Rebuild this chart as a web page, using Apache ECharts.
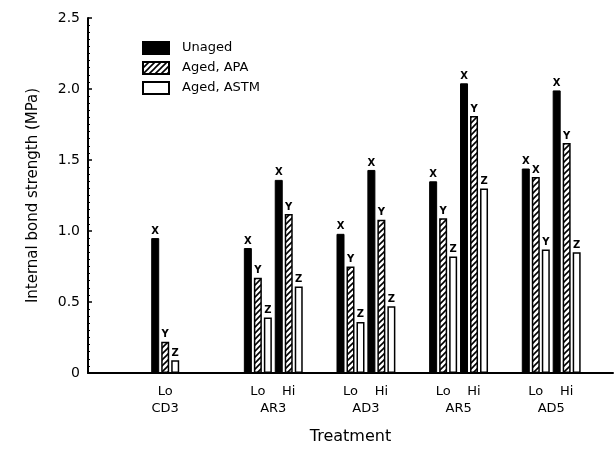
<!DOCTYPE html>
<html>
<head>
<meta charset="utf-8">
<script src="https://cdn.jsdelivr.net/npm/echarts@6/dist/echarts.min.js"></script>
<style>
  html, body { margin: 0; padding: 0; background: #fff; }
  #chart { width: 616px; height: 454px; }
</style>
</head>
<body>
<div id="chart"></div>
<script>
// slots along the x axis: Lo / Hi / gap per treatment
const slots = ['p0', 'p1', 'CD3 Lo', 'CD3 Hi', 'g1', 'AR3 Lo', 'AR3 Hi', 'g2', 'AD3 Lo', 'AD3 Hi', 'g3', 'AR5 Lo', 'AR5 Hi', 'g4', 'AD5 Lo', 'AD5 Hi', 'g5'];
const levelLabels = ['', '', 'Lo', '', '', 'Lo', 'Hi', '', 'Lo', 'Hi', '', 'Lo', 'Hi', '', 'Lo', 'Hi', ''];
// treatment names on a finer point axis (half slot steps)
const groupLabels = ['', '', '', '', '', 'CD3', '', '', '', '', '', '', 'AR3', '', '', '', '', '', 'AD3', '', '', '', '', '', 'AR5', '', '', '', '', '', 'AD5', '', '', '', ''];

const unaged = [null, null, 0.95, null, null, 0.88, 1.36, null, 0.98, 1.43, null, 1.35, 2.04, null, 1.44, 1.99, null];
const agedAPA = [null, null, 0.22, null, null, 0.67, 1.12, null, 0.75, 1.08, null, 1.09, 1.81, null, 1.38, 1.62, null];
const agedASTM = [null, null, 0.09, null, null, 0.39, 0.61, null, 0.36, 0.47, null, 0.82, 1.30, null, 0.87, 0.85, null];

const unagedLetters = ['', '', 'X', '', '', 'X', 'X', '', 'X', 'X', '', 'X', 'X', '', 'X', 'X', ''];
const apaLetters = ['', '', 'Y', '', '', 'Y', 'Y', '', 'Y', 'Y', '', 'Y', 'Y', '', 'X', 'Y', ''];
const astmLetters = ['', '', 'Z', '', '', 'Z', 'Z', '', 'Z', 'Z', '', 'Z', 'Z', '', 'Y', 'Z', ''];

const yTicks = ['0', '0.5', '1.0', '1.5', '2.0', '2.5'];

const FONT = 'DejaVu Sans';

// hatch pattern for the APA bars
function makeHatch() {
  const c = document.createElement('canvas');
  c.width = 6;
  c.height = 6;
  const ctx = c.getContext('2d');
  ctx.fillStyle = '#fff';
  ctx.fillRect(0, 0, 6, 6);
  ctx.strokeStyle = '#000';
  ctx.lineWidth = 1.6;
  ctx.beginPath();
  ctx.moveTo(-1, 7); ctx.lineTo(7, -1);
  ctx.moveTo(-1, 1); ctx.lineTo(1, -1);
  ctx.moveTo(5, 7); ctx.lineTo(7, 5);
  ctx.stroke();
  return c;
}

const chart = echarts.init(document.getElementById('chart'), null, { renderer: 'canvas' });

function barLabel(letters) {
  return {
    show: true,
    position: 'top',
    distance: 2,
    color: '#000',
    fontFamily: FONT,
    fontSize: 10,
    fontWeight: 'bold',
    formatter: p => letters[p.dataIndex]
  };
}

const option = {
  animation: false,
  backgroundColor: '#fff',
  textStyle: { fontFamily: FONT, color: '#000' },
  grid: { left: 88, top: 18, width: 536, bottom: 81, containLabel: false },
  legend: {
    orient: 'vertical',
    left: 137,
    top: 36,
    icon: 'rect',
    itemWidth: 26,
    itemHeight: 12,
    itemGap: 6,
    textStyle: { fontFamily: FONT, fontSize: 13, color: '#000', padding: [0, 0, 0, 8] },
    data: ['Unaged', 'Aged, APA', 'Aged, ASTM']
  },
  xAxis: [
    {
      type: 'category',
      data: slots,
      axisLine: { lineStyle: { color: '#000', width: 2 } },
      axisTick: { show: false },
      axisLabel: {
        interval: 0,
        margin: 12,
        fontSize: 13,
        color: '#000',
        fontFamily: FONT,
        formatter: (v, i) => levelLabels[i]
      },
      name: 'Treatment',
      nameLocation: 'middle',
      nameGap: 56,
      nameTextStyle: { fontSize: 16, fontFamily: FONT, color: '#000' }
    },
    {
      type: 'category',
      position: 'bottom',
      offset: 0,
      boundaryGap: false,
      data: groupLabels.map((g, i) => g || ('h' + i)),
      axisLine: { show: false },
      axisTick: { show: false },
      axisLabel: {
        interval: 0,
        margin: 29,
        fontSize: 13,
        color: '#000',
        fontFamily: FONT,
        formatter: (v, i) => groupLabels[i]
      }
    }
  ],
  yAxis: {
    type: 'value',
    min: 0,
    max: 2.5,
    interval: 0.5,
    name: 'Internal bond strength (MPa)',
    nameLocation: 'middle',
    nameGap: 47,
    nameTextStyle: { fontSize: 15, fontFamily: FONT, color: '#000' },
    axisLine: { show: true, lineStyle: { color: '#000', width: 2 } },
    axisTick: { show: true, inside: true, length: 4, lineStyle: { color: '#000', width: 1.5 } },
    minorTick: { show: true, splitNumber: 10, length: 2, lineStyle: { color: '#000' } },
    splitLine: { show: false },
    axisLabel: {
      margin: 8,
      fontSize: 14,
      color: '#000',
      fontFamily: FONT,
      formatter: v => yTicks[Math.round(v / 0.5)]
    }
  },
  series: [
    {
      name: 'Unaged',
      type: 'bar',
      data: unaged,
      barWidth: 8,
      barGap: '25%',
      itemStyle: { color: '#000', borderColor: '#000', borderWidth: 1 },
      label: barLabel(unagedLetters)
    },
    {
      name: 'Aged, APA',
      type: 'bar',
      data: agedAPA,
      barWidth: 8,
      barGap: '25%',
      itemStyle: { color: { image: makeHatch(), repeat: 'repeat' }, borderColor: '#000', borderWidth: 1.5 },
      label: barLabel(apaLetters)
    },
    {
      name: 'Aged, ASTM',
      type: 'bar',
      data: agedASTM,
      barWidth: 8,
      barGap: '25%',
      itemStyle: { color: '#fff', borderColor: '#000', borderWidth: 1.5 },
      label: barLabel(astmLetters)
    }
  ]
};

chart.setOption(option);
</script>
</body>
</html>
